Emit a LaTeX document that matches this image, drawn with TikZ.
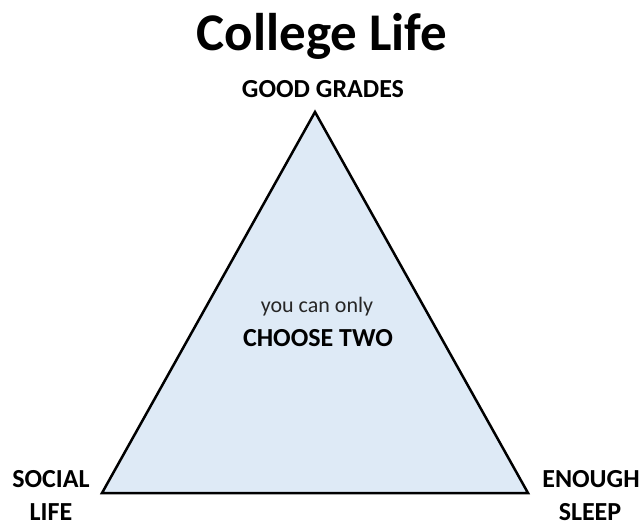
\documentclass[tikz,border=0pt]{standalone}
\usepackage{fontspec}
\setmainfont{Carlito}
\usepackage{tikz}
\definecolor{paleblue}{HTML}{DEEAF6}
\tikzstyle{every node}=[inner sep=0pt,anchor=base]
\tikzstyle{corner}=[font=\fontsize{26}{31}\selectfont\bfseries]
\tikzstyle{title}=[font=\fontsize{53}{63}\selectfont\bfseries]

\begin{document}
\begin{tikzpicture}[x=1pt,y=-1pt]
\useasboundingbox (0,0) rectangle (642,522);
\coordinate (top)   at (315,112);
\coordinate (left)  at (102,493);
\coordinate (right) at (528,493);
\draw[line width=2.5pt,line join=miter,fill=paleblue] (top) -- (left) -- (right) -- cycle;
\node[title]  (head)   at (322,50)  {College Life};
\node[corner] (grades) at (323,97)  {GOOD GRADES};
\node[corner] (social) at (51,487)  {SOCIAL};
\node[corner] (life)   at (51,520)  {LIFE};
\node[corner] (enough) at (591,487) {ENOUGH};
\node[corner] (sleep)  at (590,520) {SLEEP};
\node[font=\fontsize{22}{26}\selectfont,text=black!85] (only) at (317,312) {you can only};
\node[corner] (two)    at (318,346) {CHOOSE TWO};
\end{tikzpicture}
\end{document}
